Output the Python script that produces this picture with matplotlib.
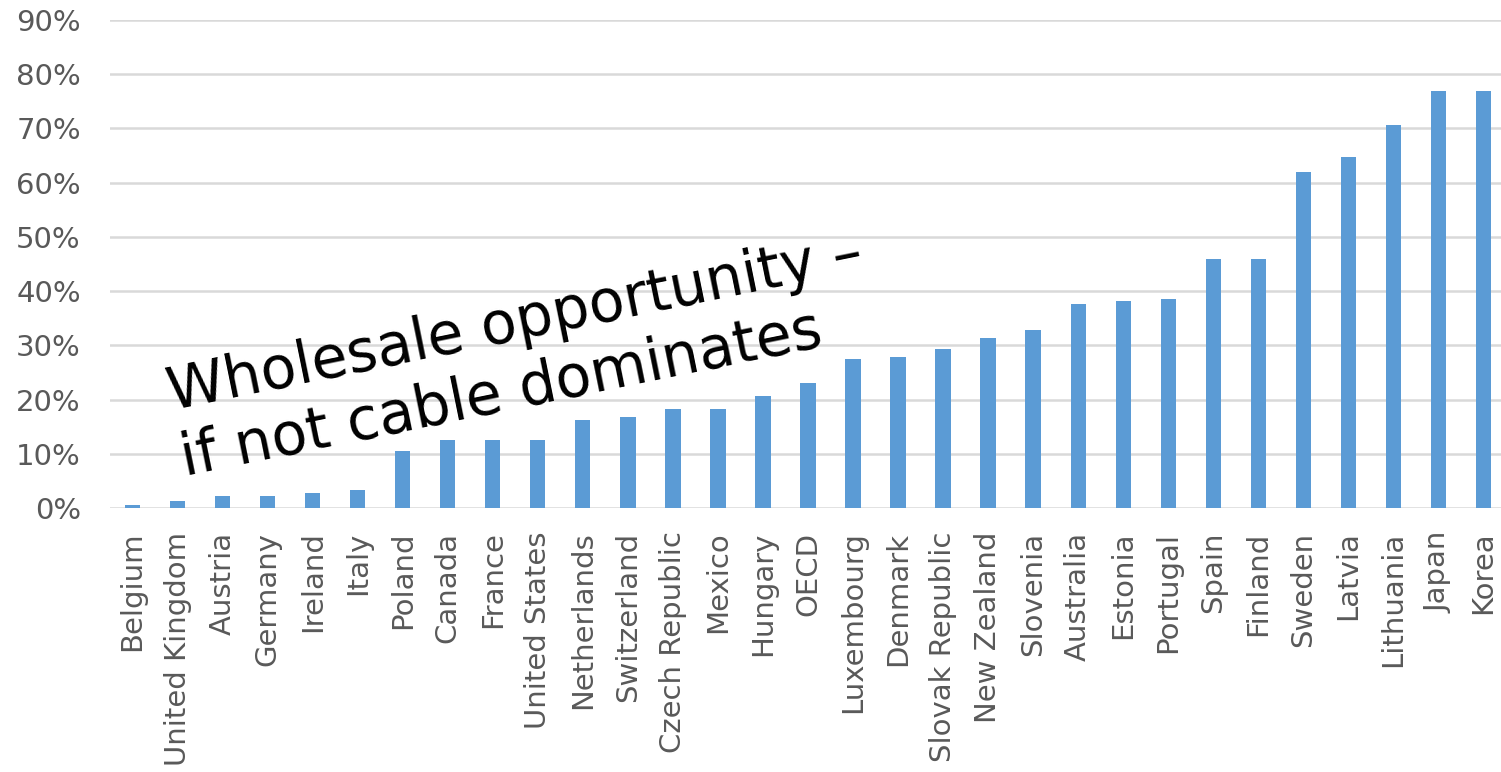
import matplotlib
matplotlib.use('Agg')
from matplotlib import pyplot as plt
from matplotlib.ticker import PercentFormatter

# data
countries = ['Belgium', 'United Kingdom', 'Austria', 'Germany', 'Ireland', 'Italy',
             'Poland', 'Canada', 'France', 'United States', 'Netherlands',
             'Switzerland', 'Czech Republic', 'Mexico', 'Hungary', 'OECD',
             'Luxembourg', 'Denmark', 'Slovak Republic', 'New Zealand', 'Slovenia',
             'Australia', 'Estonia', 'Portugal', 'Spain', 'Finland', 'Sweden',
             'Latvia', 'Lithuania', 'Japan', 'Korea']
shares = [0.5, 1.3, 2.3, 2.3, 2.8, 3.3, 10.5, 12.5, 12.5, 12.5, 16.3,
          16.8, 18.2, 18.2, 20.7, 23.0, 27.5, 27.9, 29.4, 31.3, 32.8,
          37.7, 38.1, 38.6, 45.9, 45.9, 61.9, 64.8, 70.6, 77.0, 77.0]
yticks = [0, 10, 20, 30, 40, 50, 60, 70, 80, 90]

fig = plt.figure(figsize=(15.01, 7.72), dpi=100)
ax = fig.add_axes([0.0733, 0.342, 0.93, 0.632])

ax.bar(range(len(countries)), shares, width=0.34, color='#5B9BD5', zorder=3)

ax.set_xlim(-0.5, len(countries) - 0.5)
ax.set_ylim(0, 90)
ax.set_yticks(yticks)
ax.yaxis.set_major_formatter(PercentFormatter(decimals=0))
ax.set_xticks(range(len(countries)))
ax.set_xticklabels(countries, rotation=90)
ax.tick_params(axis='both', length=0, labelsize=21, labelcolor='#595959')
ax.tick_params(axis='y', pad=21)
ax.tick_params(axis='x', pad=17)
ax.grid(axis='y', color='#D9D9D9', linewidth=1.8, zorder=0)
for s in ax.spines.values():
    s.set_visible(False)

fig.text(0.122, 0.396, 'Wholesale opportunity \u2013\nif not cable dominates',
         fontsize=42, color='black', rotation=11.5, rotation_mode='anchor',
         ha='left', va='baseline', multialignment='left', linespacing=1.22)

fig.savefig('out.png', dpi=100)
